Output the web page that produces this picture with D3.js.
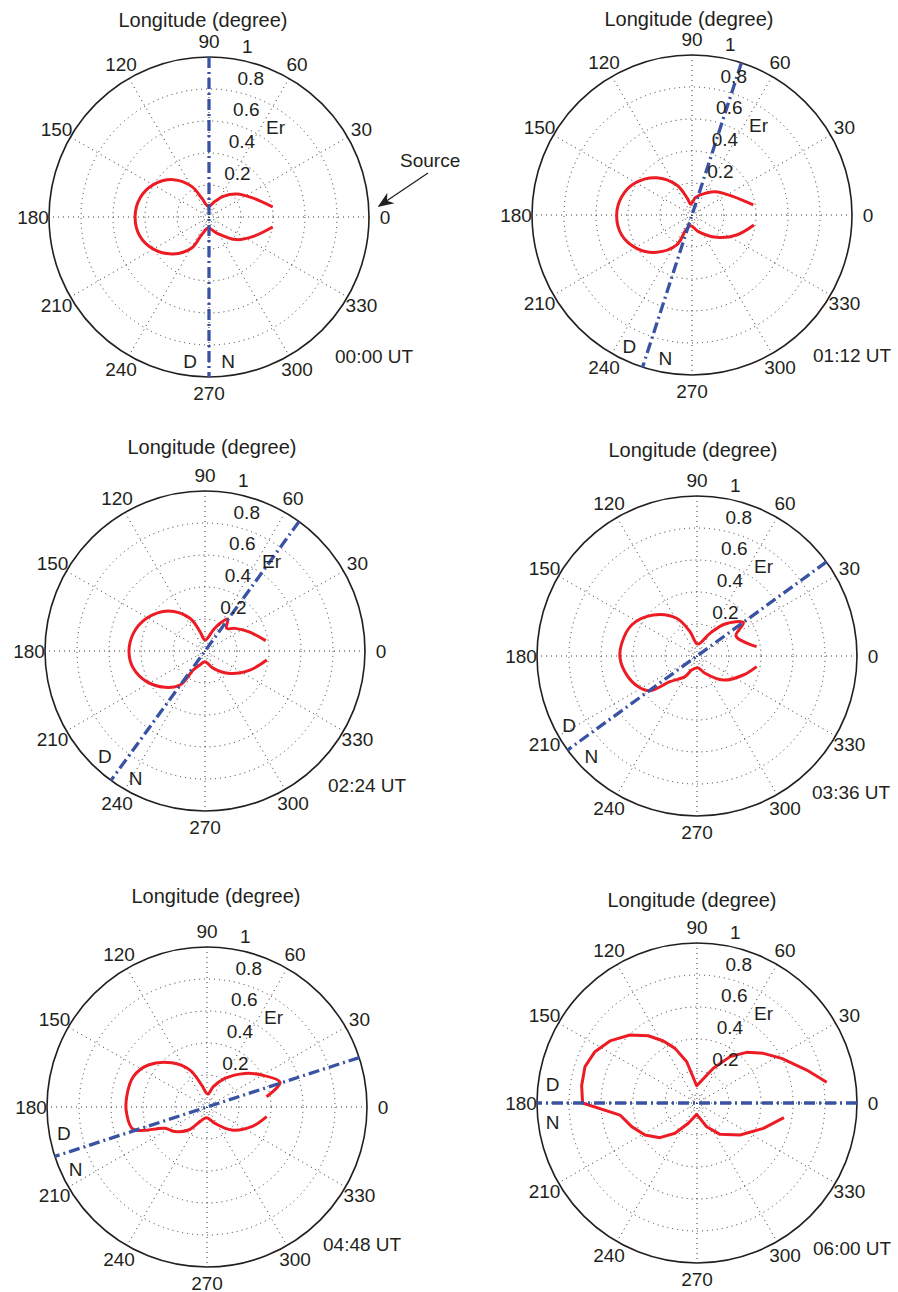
<!DOCTYPE html>
<html>
<head>
<meta charset="utf-8">
<script src="https://cdn.jsdelivr.net/npm/d3@7"></script>
<style>
  body { margin: 0; background: #fff; }
  text { font-family: "Liberation Sans", Arial, Helvetica, sans-serif; fill: #231f20; }
</style>
</head>
<body>
<svg id="chart" width="898" height="1292"></svg>
<script>
// ---- data ----
var lonTicks = [0, 30, 60, 90, 120, 150, 180, 210, 240, 270, 300, 330];
var erTicks = [0.2, 0.4, 0.6, 0.8, 1];
var gridRings = [0.05, 0.2, 0.4, 0.6, 0.8];
var utLabels = ["00:00 UT", "01:12 UT", "02:24 UT", "03:36 UT", "04:48 UT", "06:00 UT"];
var terminatorLon = [90, 72, 54, 36, 18, 0];

// [longitude (deg), Er]
var er0000 = [[8.9,0.403],[23.2,0.30],[39.7,0.225],[55.3,0.157],[69,0.105],[93.6,0.067],[111,0.127],[119.5,0.22],[133.7,0.323],[149.8,0.402],[164.6,0.447],[180,0.462],[195.6,0.448],[209.6,0.403],[226,0.321],[240.8,0.222],[247.5,0.12],[266.5,0.069],[295.6,0.111],[320.7,0.223],[336.4,0.302],[351.1,0.403]];
var er0112 = [[9.3,0.388],[23.9,0.283],[45.4,0.205],[68,0.135],[74,0.12],[79,0.112],[97,0.069],[105.6,0.108],[117,0.21],[133.4,0.321],[151,0.41],[165.4,0.454],[180,0.471],[195.9,0.457],[211,0.404],[226.6,0.321],[243,0.21],[248,0.10],[263,0.067],[291,0.111],[317.8,0.208],[335.9,0.306],[350.8,0.392]];
var er0224 = [[9.7,0.385],[24,0.297],[37,0.235],[46.3,0.196],[54.7,0.245],[61.5,0.197],[68.4,0.141],[90,0.069],[104.5,0.125],[114.7,0.225],[132.5,0.339],[150.8,0.418],[166.2,0.461],[180.8,0.475],[193.6,0.461],[207.7,0.412],[222.2,0.338],[233.7,0.264],[238.4,0.139],[250,0.093],[270,0.067],[295.7,0.12],[318.2,0.21],[337,0.305],[351.7,0.39]];
var er0336 = [[8.9,0.377],[27.1,0.274],[35.7,0.357],[48.8,0.266],[60.2,0.163],[86.8,0.075],[106,0.158],[118.4,0.268],[136.8,0.374],[154.6,0.452],[170.5,0.477],[181.7,0.481],[195,0.455],[207.6,0.414],[216.4,0.365],[223.6,0.233],[239.9,0.149],[249,0.094],[273,0.073],[294.8,0.119],[317.6,0.223],[337.7,0.313],[349.9,0.379]];
var er0448 = [[9.8,0.378],[18.7,0.482],[30.3,0.396],[41.5,0.317],[57.9,0.211],[72.7,0.133],[87,0.081],[103.6,0.141],[114.7,0.254],[128.6,0.354],[144.4,0.451],[157.6,0.498],[172.7,0.506],[184.5,0.504],[196.9,0.481],[206.9,0.294],[217.6,0.252],[231,0.185],[244.5,0.10],[266.4,0.067],[296,0.114],[317,0.211],[336.2,0.305],[350.8,0.378]];
var er0600 = [[9.1,0.821],[16.7,0.716],[27.8,0.598],[36.8,0.518],[45.6,0.443],[54.5,0.356],[64.8,0.24],[91,0.108],[104,0.266],[111.9,0.368],[118.5,0.441],[125.9,0.519],[134.6,0.597],[144.5,0.668],[153.3,0.714],[162,0.736],[171.5,0.729],[180,0.715],[188.9,0.487],[199.9,0.434],[211.6,0.382],[223.1,0.317],[234,0.234],[246.9,0.138],[268.3,0.071],[292.2,0.16],[306.3,0.243],[323.3,0.335],[339.1,0.444],[350.4,0.551]];

var curves = [er0000, er0112, er0224, er0336, er0448, er0600];
var smoothCurve = [true, true, true, true, true, false];

// ---- layout ----
var R = 160;
var panels = [
  { cx: 209, cy: 217, tx: 203, ty: 20, ux: 126, uy: 139 },
  { cx: 692, cy: 215, tx: 689, ty: 19, ux: 121, uy: 140 },
  { cx: 205, cy: 651, tx: 212, ty: 447, ux: 123, uy: 134 },
  { cx: 697, cy: 656, tx: 693, ty: 450, ux: 115, uy: 136 },
  { cx: 207, cy: 1107, tx: 216, ty: 896, ux: 116, uy: 137 },
  { cx: 697, cy: 1103, tx: 692, ty: 900, ux: 116, uy: 145 }
];

var RED = "#ed1c24";
var BLUE = "#3953a4";

var svg = d3.select("#chart");
svg.append("rect").attr("width", 898).attr("height", 1292).attr("fill", "#fff");

var rScale = d3.scaleLinear().domain([0, 1]).range([0, R]);
// polar longitude -> d3 radial angle (0 at 12 o'clock, clockwise)
var aScale = d3.scaleLinear().domain([0, 360]).range([Math.PI / 2, Math.PI / 2 - 2 * Math.PI]);

function pt(lon, r) {
  var a = aScale(lon);
  return [rScale(r) * Math.sin(a), -rScale(r) * Math.cos(a)];
}

var radial = d3.lineRadial()
  .angle(function(d) { return aScale(d[0]); })
  .radius(function(d) { return rScale(d[1]); });

svg.append("defs").append("marker")
  .attr("id", "arrow")
  .attr("viewBox", "0 0 10 10")
  .attr("refX", 9).attr("refY", 5)
  .attr("markerWidth", 16).attr("markerHeight", 16)
  .attr("markerUnits", "userSpaceOnUse")
  .attr("orient", "auto")
  .append("path").attr("d", "M0,1 L10,5 L0,9 L3,5 Z").attr("fill", "#231f20");

panels.forEach(function(p, i) {
  var g = svg.append("g").attr("transform", "translate(" + p.cx + "," + p.cy + ")");

  // dotted spokes
  g.selectAll(".spoke").data(lonTicks.filter(function(d) { return d < 180; })).join("path")
    .attr("class", "spoke")
    .attr("d", function(d) { return radial([[d, 1], [d + 180, 1]]); })
    .attr("fill", "none").attr("stroke", "#333")
    .attr("stroke-width", 1).attr("stroke-dasharray", "1,4");

  // dotted rings
  g.selectAll(".ring").data(gridRings).join("circle")
    .attr("class", "ring")
    .attr("r", function(d) { return rScale(d); })
    .attr("fill", "none").attr("stroke", "#333")
    .attr("stroke-width", 1).attr("stroke-dasharray", "1,4");

  // outer circle
  g.append("circle").attr("r", rScale(1))
    .attr("fill", "none").attr("stroke", "#231f20").attr("stroke-width", 1.6);

  // Er curve
  var line = d3.lineRadial()
    .angle(function(d) { return aScale(d[0]); })
    .radius(function(d) { return rScale(d[1]); })
    .curve(smoothCurve[i] ? d3.curveCatmullRom.alpha(0.5) : d3.curveLinear);
  g.append("path").datum(curves[i])
    .attr("d", line)
    .attr("fill", "none").attr("stroke", RED)
    .attr("stroke-width", 3).attr("stroke-linejoin", "round");

  // day/night terminator
  var t = terminatorLon[i];
  g.append("path").datum([[t, 1], [t + 180, 1]])
    .attr("d", radial)
    .attr("fill", "none").attr("stroke", BLUE)
    .attr("stroke-width", 3.3).attr("stroke-dasharray", "11,4,2,4");

  // longitude tick labels
  g.selectAll(".lon").data(lonTicks).join("text")
    .attr("class", "lon")
    .attr("x", function(d) { return pt(d, 1.1)[0]; })
    .attr("y", function(d) { return pt(d, 1.1)[1]; })
    .attr("text-anchor", "middle").attr("dominant-baseline", "central")
    .style("font-size", "19px")
    .text(function(d) { return d; });

  // radial tick labels at 82 deg
  g.selectAll(".er").data(erTicks).join("text")
    .attr("class", "er")
    .attr("x", function(d) { return pt(82, d + 0.01)[0] + 10.5; })
    .attr("y", function(d) { return pt(82, d + 0.01)[1] - 4; })
    .style("font-size", "19px")
    .text(function(d) { return d; });

  g.append("text").attr("x", 57).attr("y", -90)
    .attr("dominant-baseline", "central").style("font-size", "19px").text("Er");

  // D / N marks at the terminator's night end
  var dp = pt(t + 180 - 7.5, 0.91), np = pt(t + 180 + 7.5, 0.91);
  g.append("text").attr("x", dp[0]).attr("y", dp[1])
    .attr("text-anchor", "middle").attr("dominant-baseline", "central")
    .style("font-size", "19px").text("D");
  g.append("text").attr("x", np[0]).attr("y", np[1])
    .attr("text-anchor", "middle").attr("dominant-baseline", "central")
    .style("font-size", "19px").text("N");

  g.append("text").attr("x", p.ux).attr("y", p.uy)
    .attr("dominant-baseline", "central").style("font-size", "19px").text(utLabels[i]);

  svg.append("text").attr("x", p.tx).attr("y", p.ty)
    .attr("text-anchor", "middle").attr("dominant-baseline", "central")
    .style("font-size", "20px").text("Longitude (degree)");

  if (i === 0) {
    g.append("text").attr("x", 191).attr("y", -57)
      .attr("dominant-baseline", "central").style("font-size", "19px").text("Source");
    g.append("line")
      .attr("x1", 219).attr("y1", -44).attr("x2", 170).attr("y2", -11)
      .attr("stroke", "#231f20").attr("stroke-width", 1.3)
      .attr("marker-end", "url(#arrow)");
  }
});
</script>
</body>
</html>
